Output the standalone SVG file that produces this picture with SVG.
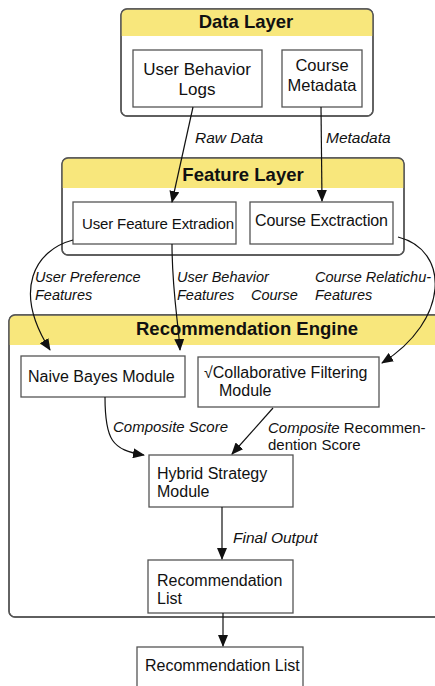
<svg xmlns="http://www.w3.org/2000/svg" width="435" height="686" viewBox="0 0 435 686">
<style>
  text { font-family: "Liberation Sans", Arial, sans-serif; fill: #111; }
  .title { font-weight: bold; font-size: 18.5px; text-anchor: middle; }
  .lbl { font-size: 16px; }
  .lbl15 { font-size: 15px; }
  .it { font-style: italic; font-size: 14.5px; }
  .it15 { font-style: italic; font-size: 15px; }
  .cont { fill: #fff; stroke: #555; stroke-width: 1.4; }
  .hdr { fill: #f8e77c; }
  .box { fill: #fff; stroke: #555; stroke-width: 1.3; }
  .edge { fill: none; stroke: #111; stroke-width: 1.2; marker-end: url(#arr); }
</style>
<defs>
  <marker id="arr" markerUnits="userSpaceOnUse" markerWidth="12" markerHeight="10" viewBox="0 0 12 10" refX="11" refY="5" orient="auto">
    <path d="M0,0 L12,5 L0,10 Z" fill="#111"/>
  </marker>
  <clipPath id="c1"><rect x="121" y="9" width="252" height="107" rx="6"/></clipPath>
  <clipPath id="c2"><rect x="62" y="158" width="342" height="97" rx="6"/></clipPath>
  <clipPath id="c3"><rect x="9" y="315" width="440" height="302" rx="6"/></clipPath>
</defs>
<rect width="435" height="686" fill="#fff"/>

<g id="data-layer">
  <rect class="cont" x="121" y="9" width="252" height="107" rx="6"/>
  <rect class="hdr" x="121" y="9" width="252" height="27" clip-path="url(#c1)"/>
  <rect x="121" y="9" width="252" height="107" rx="6" fill="none" stroke="#555" stroke-width="1.4"/>
  <text class="title" x="246" y="28">Data Layer</text>
</g>
<g id="user-behavior-logs">
  <rect class="box" x="133" y="50" width="129" height="57"/>
  <text x="197" y="75" text-anchor="middle" font-size="17">User Behavior</text>
  <text x="197" y="95" text-anchor="middle" font-size="17">Logs</text>
</g>
<g id="course-metadata">
  <rect class="box" x="282" y="50" width="80" height="57"/>
  <text x="322" y="71" text-anchor="middle" font-size="16.5">Course</text>
  <text x="322" y="91" text-anchor="middle" font-size="16.5">Metadata</text>
</g>

<g id="feature-layer">
  <rect class="cont" x="62" y="158" width="342" height="97" rx="6"/>
  <rect class="hdr" x="62" y="158" width="342" height="30" clip-path="url(#c2)"/>
  <rect x="62" y="158" width="342" height="97" rx="6" fill="none" stroke="#555" stroke-width="1.4"/>
  <text class="title" x="243" y="181">Feature Layer</text>
</g>
<g id="user-feature-extraction">
  <rect class="box" x="73" y="202" width="163" height="42"/>
  <text x="82" y="229" font-size="15" textLength="152">User Feature Extradion</text>
</g>
<g id="course-extraction">
  <rect class="box" x="250" y="202" width="143" height="42"/>
  <text class="lbl" x="255" y="226" textLength="133">Course Exctraction</text>
</g>

<g id="recommendation-engine">
  <rect class="cont" x="9" y="315" width="440" height="302" rx="6"/>
  <rect class="hdr" x="9" y="315" width="440" height="30" clip-path="url(#c3)"/>
  <rect x="9" y="315" width="440" height="302" rx="6" fill="none" stroke="#555" stroke-width="1.4"/>
  <text class="title" x="247" y="335">Recommendation Engine</text>
</g>
<g id="naive-bayes">
  <rect class="box" x="21" y="356" width="164" height="41"/>
  <text class="lbl" x="28" y="382">Naive Bayes Module</text>
</g>
<g id="collaborative-filtering">
  <rect class="box" x="198" y="357" width="181" height="50"/>
  <text class="lbl" x="204" y="378">√Collaborative Filtering</text>
  <text class="lbl" x="219" y="396">Module</text>
</g>
<g id="hybrid-strategy">
  <rect class="box" x="149" y="455" width="144" height="52"/>
  <text class="lbl" x="157" y="479">Hybrid Strategy</text>
  <text class="lbl" x="157" y="497">Module</text>
</g>
<g id="recommendation-list-inner">
  <rect class="box" x="148" y="560" width="145" height="53"/>
  <text class="lbl" x="157" y="586">Recommendation</text>
  <text class="lbl" x="157" y="604">List</text>
</g>
<g id="recommendation-list-outer">
  <rect class="box" x="137" y="647" width="166" height="50"/>
  <text class="lbl" x="145" y="671">Recommendation List</text>
</g>

<g id="connectors">
  <path class="edge" d="M193,107 L172,202"/>
  <path class="edge" d="M321,107 L322,201"/>
  <path class="edge" d="M73,240 C35,250 12,290 50,350"/>
  <path class="edge" d="M172,244 C172,290 178,320 180,350"/>
  <path class="edge" d="M398,237 C450,250 450,320 382,363"/>
  <path class="edge" d="M105,397 C105,440 112,450 144,455"/>
  <path class="edge" d="M273,408 L232,454"/>
  <path class="edge" d="M222,507 L222,559"/>
  <path class="edge" d="M223,613 L223,646"/>
</g>

<g id="labels">
  <text class="it" x="195" y="143" style="font-size:15.5px">Raw Data</text>
  <text class="it" x="326" y="143" style="font-size:15.5px">Metadata</text>
  <text class="it" x="35" y="282">User Preference</text>
  <text class="it" x="35" y="300">Features</text>
  <text class="it" x="177" y="282">User Behavior</text>
  <text class="it" x="177" y="300">Features</text>
  <text class="it" x="251" y="300">Course</text>
  <text class="it" x="315" y="282">Course Relatichu-</text>
  <text class="it" x="315" y="300">Features</text>
  <text class="it15" x="113" y="432">Composite Score</text>
  <text class="lbl15" x="268" y="433"><tspan font-style="italic">Composite</tspan> Recommen-</text>
  <text class="lbl15" x="268" y="450">dention Score</text>
  <text class="it15" x="233" y="543" style="font-size:15.5px">Final Output</text>
</g>
</svg>
